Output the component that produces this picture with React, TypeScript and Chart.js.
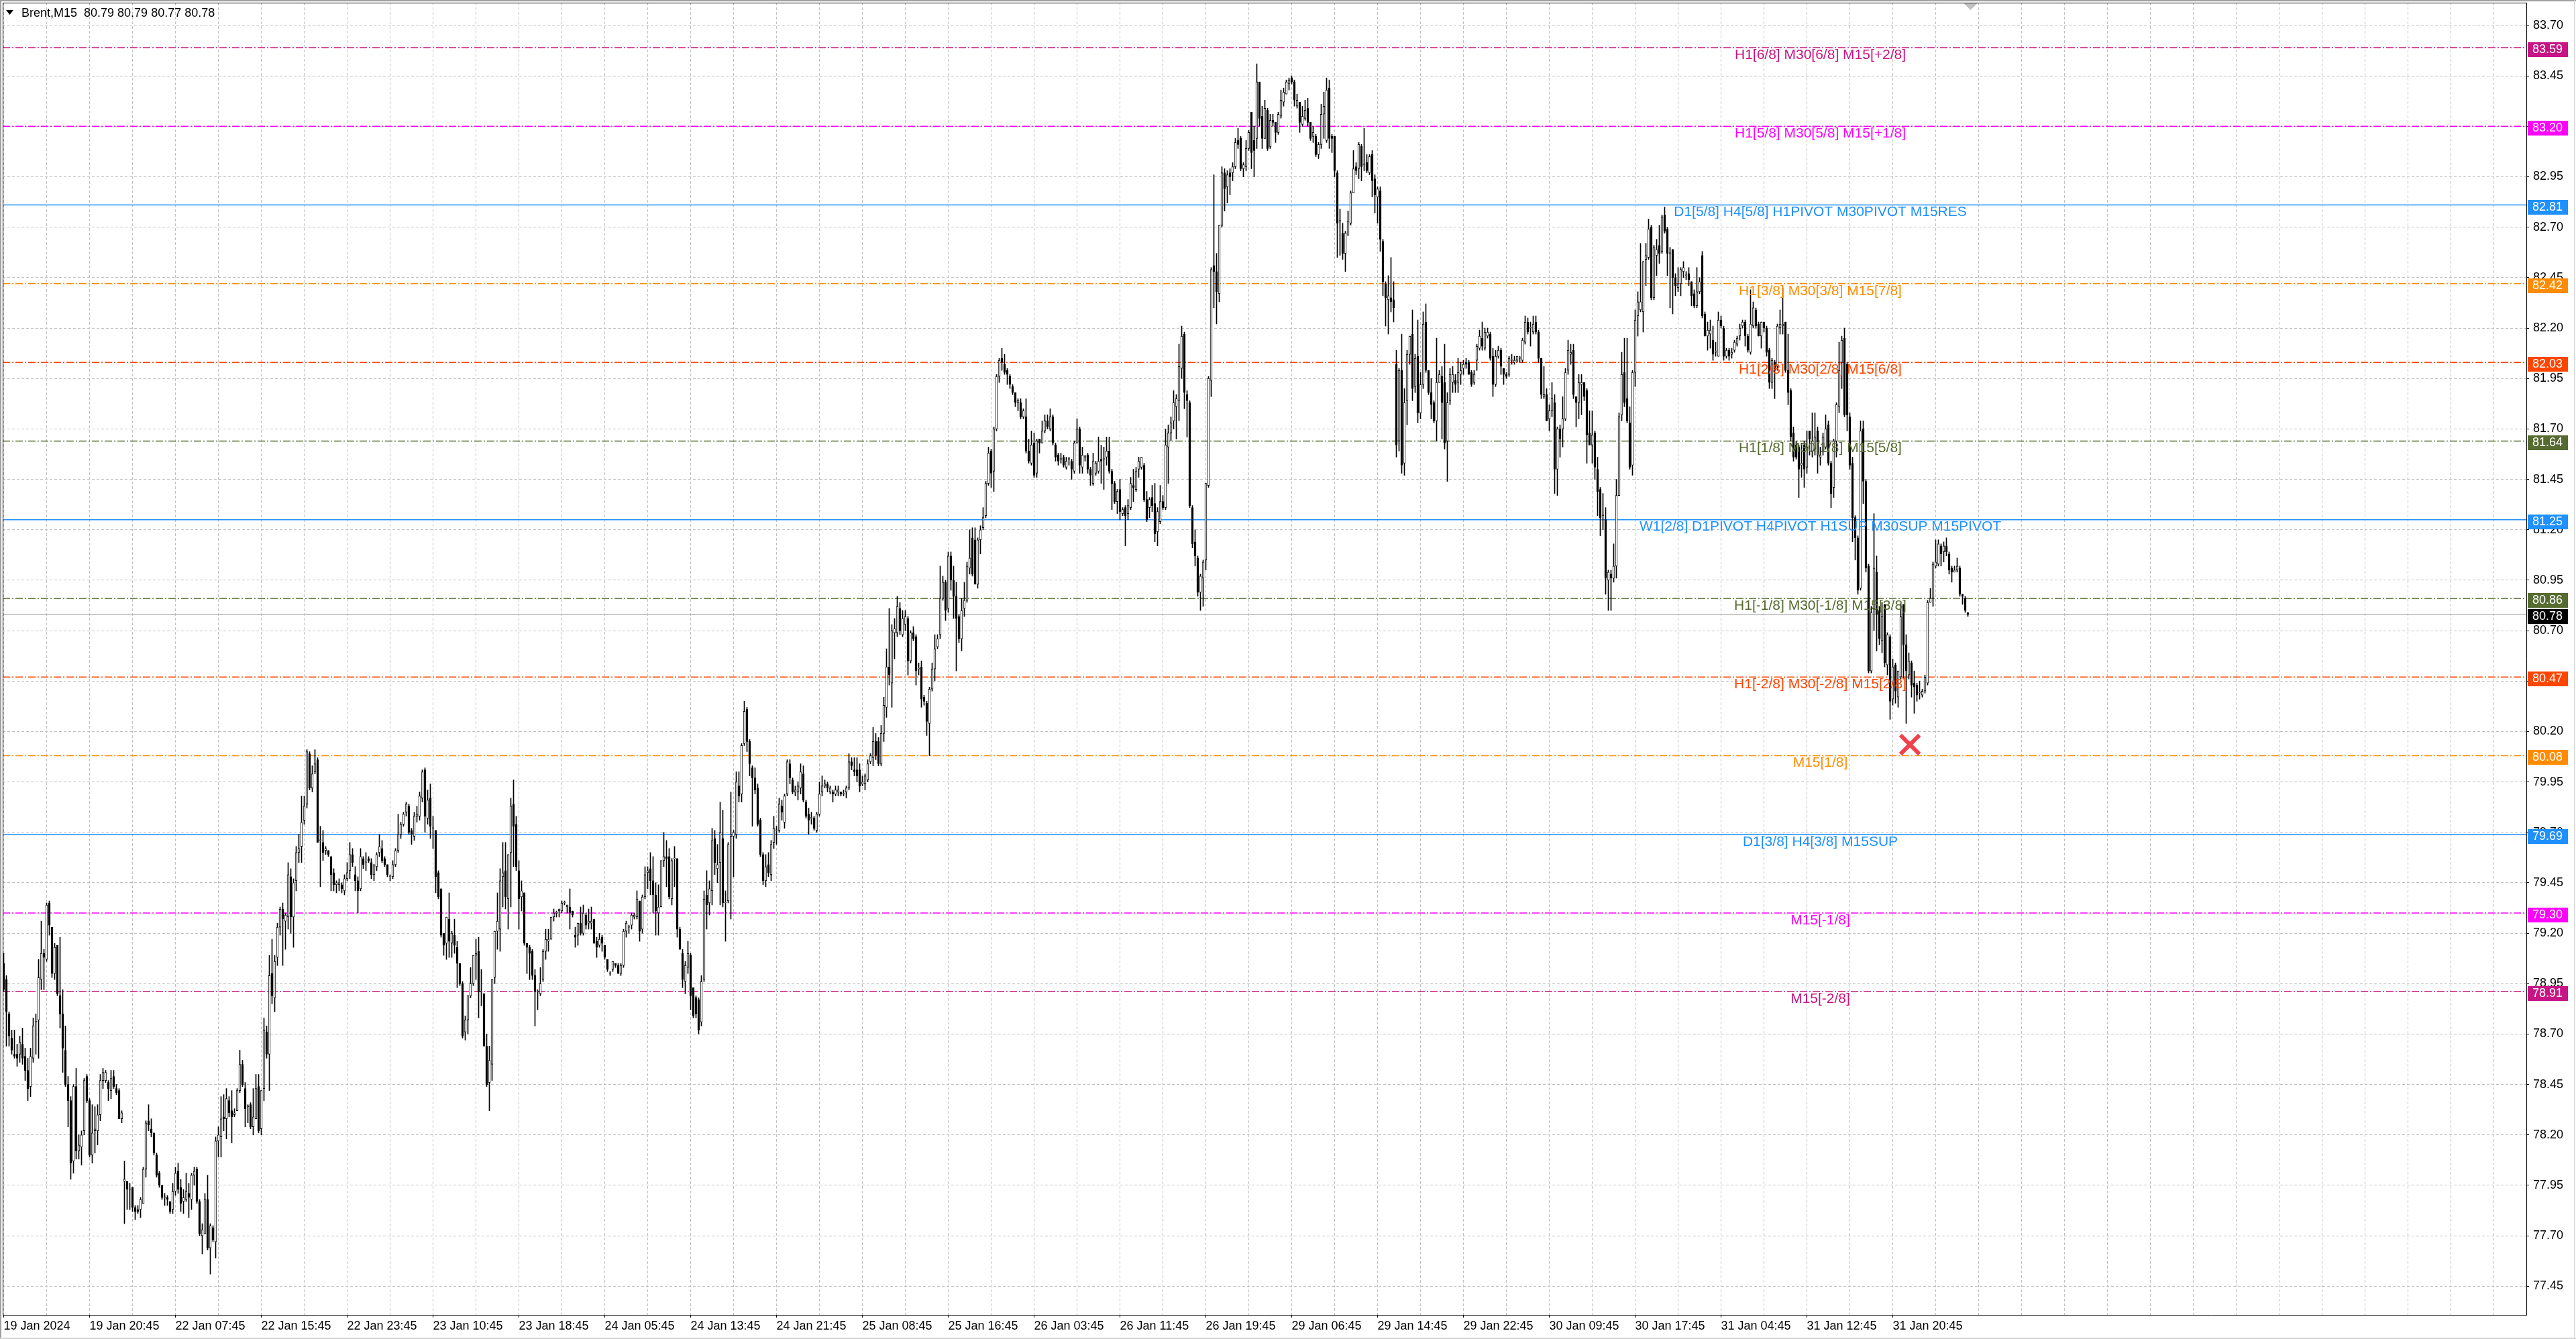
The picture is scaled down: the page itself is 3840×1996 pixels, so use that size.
import { useEffect, useRef } from 'react';
import { Chart, registerables } from 'chart.js';

Chart.register(...registerables);

const FONT = '"Liberation Sans", Arial, sans-serif';
Chart.defaults.font.family = FONT;
Chart.defaults.font.size = 18;
Chart.defaults.color = '#000';

// Brent M15 bars, [open, high, low, close]
const bars19to22Jan = [
  [79.05,79.10,78.91,78.92],[78.97,78.99,78.64,78.81],[78.80,78.81,78.64,78.69],[78.68,78.72,78.60,78.62],
  [78.60,78.72,78.58,78.59],[78.60,78.65,78.54,78.58],[78.60,78.69,78.56,78.66],[78.65,78.73,78.55,78.58],
  [78.59,78.63,78.47,78.52],[78.52,78.58,78.37,78.43],[78.44,78.63,78.39,78.59],[78.58,78.78,78.56,78.74],
  [78.76,78.80,78.60,78.76],[78.77,79.07,78.58,78.98],[78.97,79.26,78.92,79.10],[79.10,79.12,78.92,79.08],
  [79.07,79.35,79.06,79.34],[79.35,79.36,79.19,79.24],[79.23,79.23,78.98,79.00],[79.00,79.15,78.97,79.13],
  [79.14,79.14,78.89,78.90],[78.89,79.18,78.73,78.80],[78.80,78.92,78.51,78.63],[78.62,78.74,78.44,78.45],
  [78.45,78.49,78.24,78.37],[78.37,78.39,77.98,78.06],[78.07,78.45,78.01,78.44],[78.44,78.53,78.08,78.12],
  [78.12,78.20,78.08,78.15],[78.14,78.22,78.05,78.20],[78.22,78.48,78.20,78.47],[78.49,78.50,78.36,78.37],
  [78.37,78.38,78.09,78.10],[78.10,78.35,78.06,78.21],[78.22,78.34,78.11,78.23],[78.22,78.35,78.15,78.30],
  [78.30,78.50,78.27,78.47],[78.47,78.53,78.43,78.51],[78.47,78.52,78.46,78.51],[78.46,78.47,78.37,78.43],
  [78.42,78.52,78.38,78.48],[78.49,78.52,78.43,78.44],[78.43,78.45,78.40,78.41],[78.42,78.43,78.28,78.28],
  [78.28,78.32,78.26,78.31],[77.97,78.07,77.76,77.98],[77.97,77.97,77.83,77.93],[77.93,77.96,77.83,77.93],
  [77.94,77.94,77.82,77.84],[77.84,77.85,77.78,77.82],[77.83,77.85,77.81,77.82],[77.83,77.89,77.79,77.88],
  [77.86,78.04,77.86,78.03],[78.03,78.27,77.99,78.26],[78.27,78.35,78.22,78.25],[78.23,78.28,78.19,78.21],
  [78.21,78.21,78.10,78.11],[78.10,78.11,77.99,78.00],[78.01,78.02,77.94,77.95],[77.95,77.95,77.88,77.89],
  [77.89,77.91,77.85,77.89],[77.89,77.90,77.85,77.88],[77.87,77.87,77.81,77.82],[77.83,77.96,77.81,77.92],
  [77.92,78.04,77.90,78.01],[78.02,78.06,77.91,77.93],[77.94,77.98,77.82,77.86],[77.87,77.93,77.81,77.89],
  [77.88,78.01,77.87,77.92],[77.91,77.96,77.79,77.89],[77.88,78.01,77.83,78.00],[78.00,78.04,77.95,78.02],
  [78.03,78.04,77.86,77.87],[77.87,77.88,77.70,77.71],[77.70,77.76,77.61,77.73],[77.71,77.91,77.71,77.88],
  [77.88,78.00,77.63,77.64],[77.64,77.76,77.51,77.75],[77.74,77.75,77.67,77.68],[77.67,78.19,77.59,78.17],
  [78.17,78.24,78.09,78.20],[78.19,78.39,78.09,78.28],[78.29,78.40,78.22,78.28],[78.28,78.43,78.18,78.38],
  [78.37,78.39,78.29,78.31],[78.32,78.42,78.16,78.29],[78.30,78.33,78.29,78.31],[78.32,78.43,78.32,78.42],
  [78.42,78.62,78.41,78.55],[78.55,78.57,78.44,78.45],[78.43,78.46,78.24,78.33],[78.34,78.35,78.26,78.34],
  [78.35,78.36,78.23,78.24],[78.24,78.43,78.20,78.29],[78.28,78.50,78.28,78.43],[78.44,78.50,78.21,78.22],
  [78.23,78.42,78.20,78.42],[78.43,78.78,78.37,78.72],[78.71,78.74,78.58,78.60],[78.60,79.09,78.42,78.99],
  [79.00,79.17,78.85,78.89],[78.88,79.09,78.81,79.06],[79.08,79.25,79.04,79.23],[79.23,79.33,79.19,79.32],
  [79.32,79.35,79.04,79.27],[79.26,79.30,79.12,79.29],[79.28,79.55,79.22,79.49],[79.48,79.52,79.20,79.28],
  [79.28,79.47,79.13,79.45],[79.46,79.63,79.41,79.60],[79.60,79.69,79.55,79.62],[79.63,79.88,79.55,79.75],
  [79.76,79.88,79.74,79.83],[79.84,80.11,79.82,80.10],[80.09,80.10,79.91,79.92],[79.92,80.03,79.90,79.99],
  [80.00,80.11,79.99,80.04],[80.06,80.07,79.65,79.65],[79.66,79.73,79.43,79.66],[79.65,79.71,79.56,79.60],
  [79.61,79.63,79.59,79.62],[79.61,79.61,79.58,79.59],[79.58,79.58,79.41,79.49],[79.50,79.52,79.41,79.44],
  [79.44,79.46,79.40,79.45],[79.44,79.47,79.41,79.45],[79.44,79.45,79.40,79.42],[79.41,79.49,79.39,79.47],
  [79.47,79.55,79.46,79.50],
];

const bars23to24Jan = [
  [79.51,79.65,79.47,79.59],[79.59,79.62,79.53,79.55],[79.49,79.53,79.41,79.46],[79.46,79.48,79.30,79.41],
  [79.42,79.62,79.41,79.58],[79.57,79.58,79.52,79.54],[79.55,79.60,79.51,79.55],[79.57,79.58,79.55,79.56],
  [79.55,79.57,79.47,79.49],[79.49,79.54,79.46,79.54],[79.53,79.60,79.51,79.59],[79.60,79.69,79.58,79.63],
  [79.62,79.66,79.55,79.56],[79.57,79.58,79.53,79.54],[79.54,79.54,79.48,79.49],[79.48,79.49,79.46,79.48],
  [79.48,79.56,79.47,79.54],[79.54,79.62,79.53,79.61],[79.61,79.79,79.60,79.69],[79.69,79.75,79.67,79.74],
  [79.74,79.80,79.73,79.79],[79.80,79.85,79.78,79.84],[79.83,79.84,79.69,79.70],[79.71,79.72,79.64,79.69],
  [79.68,79.80,79.66,79.78],[79.78,79.83,79.75,79.79],[79.78,79.90,79.76,79.88],[79.87,80.01,79.85,80.00],
  [80.01,80.02,79.70,79.78],[79.77,79.91,79.74,79.86],[79.87,79.94,79.67,79.73],[79.72,79.78,79.62,79.72],
  [79.71,79.71,79.40,79.48],[79.50,79.51,79.37,79.38],[79.42,79.42,79.18,79.19],[79.20,79.20,79.09,79.14],
  [79.15,79.28,79.07,79.28],[79.27,79.40,79.08,79.16],[79.15,79.21,79.08,79.20],[79.19,79.27,79.10,79.14],
  [79.13,79.16,78.93,79.05],[79.05,79.05,78.94,78.95],[78.95,78.96,78.68,78.69],[78.71,78.79,78.67,78.77],
  [78.77,78.89,78.70,78.89],[78.89,79.03,78.88,78.95],[78.95,79.09,78.94,79.09],[79.09,79.17,78.97,79.10],
  [79.11,79.18,78.78,78.91],[78.91,79.02,78.84,78.91],[78.90,78.90,78.64,78.64],[78.64,78.70,78.44,78.45],
  [78.46,78.64,78.32,78.57],[78.55,78.97,78.47,78.97],[78.98,79.21,78.95,79.21],[79.21,79.40,79.12,79.26],
  [79.22,79.52,79.11,79.46],[79.48,79.65,79.33,79.50],[79.51,79.65,79.32,79.38],[79.37,79.59,79.22,79.59],
  [79.60,79.87,79.33,79.83],[79.84,79.96,79.53,79.73],[79.74,79.78,79.51,79.53],[79.51,79.56,79.22,79.37],
  [79.38,79.46,79.31,79.41],[79.40,79.40,79.14,79.15],[79.15,79.15,79.00,79.13],[79.13,79.14,78.97,79.10],
  [79.11,79.12,78.97,78.99],[78.99,79.02,78.74,78.91],[78.91,78.92,78.82,78.91],[78.90,79.03,78.89,78.95],
  [78.97,79.12,78.96,79.11],[79.11,79.22,79.07,79.17],[79.16,79.22,79.11,79.17],[79.17,79.28,79.17,79.28],
  [79.28,79.32,79.26,79.30],[79.30,79.31,79.28,79.30],[79.31,79.32,79.28,79.32],[79.31,79.36,79.30,79.35],
  [79.35,79.36,79.34,79.35],[79.33,79.34,79.30,79.34],[79.33,79.42,79.22,79.30],[79.31,79.31,79.28,79.29],
  [79.19,79.23,79.13,79.18],[79.19,79.25,79.14,79.25],[79.25,79.33,79.19,79.20],[79.20,79.34,79.19,79.30],
  [79.29,79.30,79.22,79.24],[79.25,79.32,79.22,79.26],[79.25,79.33,79.22,79.26],[79.27,79.27,79.15,79.15],
  [79.16,79.18,79.08,79.13],[79.14,79.20,79.13,79.17],[79.18,79.19,79.11,79.15],[79.14,79.14,79.07,79.08],
  [79.07,79.07,79.01,79.02],[79.00,79.01,78.99,79.00],[79.02,79.06,79.01,79.06],[79.05,79.05,79.03,79.04],
  [79.04,79.05,79.00,79.00],[79.00,79.05,78.99,79.04],[79.04,79.22,79.03,79.21],[79.21,79.26,79.18,79.25],
  [79.23,79.24,79.20,79.23],[79.24,79.30,79.22,79.29],[79.28,79.30,79.27,79.29],[79.28,79.41,79.27,79.37],
  [79.36,79.36,79.16,79.21],[79.22,79.39,79.20,79.38],[79.38,79.53,79.37,79.49],[79.50,79.53,79.42,79.51],
  [79.52,79.60,79.39,79.46],[79.46,79.58,79.30,79.39],[79.39,79.45,79.19,79.31],[79.30,79.44,79.19,79.33],
  [79.33,79.56,79.33,79.56],[79.56,79.70,79.53,79.58],[79.58,79.66,79.43,79.57],[79.58,79.62,79.37,79.38],
  [79.37,79.57,79.34,79.56],[79.57,79.63,79.43,79.57],[79.57,79.57,79.18,79.22],[79.22,79.23,79.12,79.12],
  [79.10,79.12,78.93,78.97],
];

const bars24to26Jan = [
  [78.96,79.06,78.90,79.04],[79.03,79.16,79.00,79.10],[79.09,79.10,78.82,78.89],[78.93,78.93,78.78,78.79],
  [78.88,78.89,78.78,78.80],[78.87,78.88,78.70,78.72],[78.76,78.99,78.74,78.96],[78.97,79.41,78.96,79.37],
  [79.39,79.51,79.22,79.34],[79.35,79.46,79.29,79.42],[79.41,79.72,79.34,79.66],[79.67,79.71,79.49,79.55],
  [79.52,79.64,79.45,79.54],[79.55,79.85,79.34,79.70],[79.67,79.81,79.33,79.35],[79.35,79.41,79.16,79.35],
  [79.36,79.65,79.35,79.64],[79.68,79.90,79.27,79.69],[79.68,79.71,79.48,79.70],[79.69,80.00,79.67,79.95],
  [79.93,80.00,79.85,79.88],[79.89,80.14,79.85,80.13],[80.14,80.35,80.13,80.30],[80.31,80.32,80.10,80.15],
  [80.15,80.16,79.98,80.04],[80.02,80.03,79.73,79.97],[79.97,80.02,79.89,79.91],[79.92,79.94,79.73,79.74],
  [79.76,79.77,79.58,79.59],[79.59,79.60,79.44,79.46],[79.46,79.59,79.43,79.53],[79.54,79.60,79.48,79.50],
  [79.49,79.66,79.46,79.64],[79.65,79.78,79.62,79.72],[79.71,79.73,79.64,79.71],[79.71,79.87,79.70,79.84],
  [79.83,79.86,79.76,79.80],[79.75,79.89,79.72,79.88],[79.89,80.06,79.88,80.05],[80.04,80.06,79.94,79.97],
  [79.96,79.97,79.89,79.90],[79.90,79.93,79.88,79.91],[79.90,79.95,79.86,79.93],[79.92,80.04,79.89,80.00],
  [79.99,80.03,79.85,79.86],[79.85,79.86,79.77,79.78],[79.79,79.82,79.69,79.76],[79.77,79.80,79.74,79.77],
  [79.77,79.78,79.71,79.72],[79.71,79.80,79.70,79.79],[79.79,79.95,79.78,79.89],[79.90,79.98,79.88,79.93],
  [79.93,79.96,79.92,79.94],[79.94,79.95,79.90,79.92],[79.90,79.93,79.89,79.92],[79.90,79.91,79.85,79.89],
  [79.89,79.93,79.88,79.91],[79.90,79.93,79.88,79.91],[79.90,79.90,79.88,79.89],[79.89,79.91,79.88,79.89],
  [79.90,79.93,79.87,79.92],[79.92,80.09,79.91,80.05],[80.05,80.07,80.01,80.03],[80.01,80.07,79.98,80.00],
  [80.01,80.07,79.95,79.98],[80.01,80.04,79.90,79.93],[79.94,79.98,79.93,79.95],[79.94,79.99,79.91,79.98],
  [79.96,80.06,79.95,80.04],[80.05,80.09,80.04,80.08],[80.07,80.22,80.03,80.15],[80.15,80.19,80.06,80.08],
  [80.15,80.17,80.03,80.04],[80.04,80.23,80.03,80.19],[80.19,80.37,80.15,80.33],[80.32,80.61,80.27,80.52],
  [80.52,80.81,80.43,80.48],[80.44,80.73,80.32,80.70],[80.69,80.76,80.56,80.71],[80.69,80.87,80.67,80.82],
  [80.81,80.84,80.68,80.70],[80.68,80.80,80.67,80.76],[80.73,80.80,80.70,80.77],[80.76,80.77,80.48,80.55],
  [80.55,80.70,80.54,80.69],[80.69,80.72,80.65,80.66],[80.67,80.68,80.43,80.50],[80.51,80.54,80.48,80.51],
  [80.52,80.55,80.32,80.36],[80.37,80.38,80.33,80.35],[80.34,80.35,80.18,80.25],[80.24,80.42,80.08,80.41],
  [80.41,80.54,80.40,80.51],[80.51,80.68,80.45,80.61],[80.62,80.68,80.61,80.66],[80.68,81.02,80.66,80.86],
  [80.86,80.97,80.85,80.94],[80.94,80.95,80.75,80.80],[80.81,81.09,80.79,81.07],[81.07,81.09,80.90,80.95],
  [80.95,81.02,80.76,80.87],[80.87,80.94,80.50,80.76],[80.77,80.78,80.64,80.66],[80.66,80.86,80.60,80.80],
  [80.81,80.94,80.77,80.85],[80.85,81.04,80.84,81.02],[81.01,81.20,80.98,81.06],[81.16,81.21,80.97,80.98],
  [81.15,81.21,80.93,80.93],[80.93,81.16,80.91,81.15],[81.15,81.22,81.08,81.20],[81.21,81.31,81.20,81.26],
  [81.27,81.44,81.26,81.43],[81.43,81.61,81.42,81.58],[81.59,81.60,81.41,81.48],[81.49,81.71,81.39,81.70],
  [81.70,81.97,81.69,81.96],[81.96,82.05,81.93,82.04],[82.05,82.10,81.99,82.03],[82.02,82.07,81.97,81.98],
  [81.99,82.00,81.92,81.97],[81.96,81.97,81.90,81.92],[81.91,81.92,81.87,81.88],[81.88,81.88,81.81,81.83],
  [81.83,81.85,81.79,81.84],
];

const bars26to29Jan = [
  [81.83,81.85,81.75,81.76],[81.76,81.80,81.75,81.79],[81.76,81.85,81.58,81.59],[81.59,81.65,81.53,81.54],
  [81.53,81.69,81.52,81.62],[81.63,81.68,81.46,81.47],[81.48,81.65,81.46,81.64],[81.65,81.65,81.58,81.63],
  [81.63,81.74,81.63,81.69],[81.69,81.77,81.68,81.74],[81.74,81.77,81.70,81.71],[81.70,81.80,81.69,81.76],
  [81.76,81.77,81.62,81.63],[81.62,81.63,81.54,81.56],[81.57,81.58,81.52,81.54],[81.55,81.58,81.53,81.55],
  [81.56,81.57,81.51,81.52],[81.51,81.56,81.50,81.54],[81.55,81.56,81.52,81.55],[81.54,81.55,81.45,81.50],
  [81.49,81.64,81.48,81.63],[81.63,81.75,81.63,81.70],[81.70,81.71,81.48,81.52],[81.51,81.61,81.48,81.57],
  [81.56,81.57,81.54,81.56],[81.57,81.58,81.48,81.50],[81.50,81.51,81.42,81.47],[81.43,81.58,81.42,81.54],
  [81.48,81.54,81.47,81.53],[81.49,81.66,81.48,81.54],[81.55,81.62,81.43,81.54],[81.55,81.61,81.40,81.55],
  [81.56,81.66,81.52,81.59],[81.59,81.66,81.48,81.49],[81.49,81.50,81.30,81.43],[81.43,81.44,81.33,81.34],
  [81.34,81.40,81.28,81.39],[81.40,81.45,81.25,81.29],[81.28,81.31,81.27,81.30],[81.31,81.32,81.12,81.27],
  [81.28,81.35,81.25,81.32],[81.31,81.46,81.30,81.43],[81.42,81.50,81.34,81.41],[81.40,81.51,81.39,81.49],
  [81.50,81.56,81.46,81.54],[81.51,81.56,81.50,81.56],[81.52,81.53,81.34,81.35],[81.35,81.39,81.24,81.25],
  [81.31,81.36,81.26,81.35],[81.36,81.42,81.29,81.32],[81.33,81.43,81.14,81.18],[81.19,81.31,81.12,81.29],
  [81.24,81.42,81.23,81.34],[81.34,81.37,81.30,81.31],[81.31,81.70,81.30,81.62],[81.61,81.72,81.43,81.68],
  [81.68,81.76,81.64,81.73],[81.74,81.89,81.70,81.83],[81.81,81.87,81.65,81.85],[81.84,82.12,81.74,82.01],
  [82.00,82.21,81.95,82.16],[82.17,82.18,81.80,81.88],[81.87,81.89,81.66,81.84],[81.83,81.84,81.31,81.32],
  [81.31,81.32,81.11,81.13],[81.14,81.20,81.02,81.07],[81.06,81.07,80.87,80.89],[80.89,80.98,80.80,80.97],
  [80.96,81.05,80.82,81.04],[81.05,81.43,81.00,81.43],[81.42,81.96,81.41,81.95],[81.94,82.50,81.86,82.49],
  [82.51,82.96,82.30,82.48],[82.48,82.57,82.22,82.38],[82.37,82.71,82.33,82.71],[82.71,83.00,82.70,82.97],
  [82.97,82.99,82.78,82.89],[82.90,82.98,82.82,82.96],[82.97,82.99,82.86,82.95],[82.97,83.02,82.93,83.00],
  [83.00,83.14,82.99,83.12],[83.13,83.19,83.09,83.11],[83.14,83.15,82.98,82.99],[82.99,83.02,82.95,83.01],
  [83.00,83.13,82.98,83.09],[83.09,83.18,83.08,83.17],[83.27,83.27,82.99,83.07],[83.13,83.20,82.95,83.08],
  [83.14,83.51,83.09,83.42],[83.42,83.42,83.20,83.24],[83.25,83.30,83.09,83.14],[83.14,83.33,83.14,83.29],
  [83.28,83.29,83.08,83.09],[83.10,83.26,83.09,83.23],[83.23,83.26,83.20,83.22],[83.22,83.22,83.12,83.17],
  [83.17,83.27,83.16,83.26],[83.25,83.38,83.24,83.33],[83.32,83.39,83.30,83.37],[83.36,83.43,83.36,83.42],
  [83.41,83.44,83.38,83.43],[83.44,83.45,83.41,83.42],[83.42,83.43,83.30,83.33],[83.30,83.36,83.29,83.33],
  [83.32,83.32,83.17,83.22],[83.21,83.30,83.20,83.25],[83.24,83.33,83.23,83.28],[83.29,83.34,83.20,83.22],
  [83.22,83.22,83.13,83.14],[83.15,83.20,83.12,83.17],[83.15,83.16,83.05,83.06],[83.06,83.12,83.04,83.11],
  [83.11,83.31,83.09,83.26],[83.26,83.37,83.14,83.30],[83.13,83.44,83.12,83.38],[83.39,83.43,83.09,83.14],
  [83.15,83.16,83.07,83.14],[83.15,83.15,82.95,82.98],[82.97,82.98,82.55,82.72],[82.73,82.79,82.56,82.73],
  [82.67,82.72,82.54,82.57],[82.57,82.68,82.48,82.67],[82.66,82.78,82.66,82.73],[82.72,82.88,82.71,82.87],
  [82.87,83.08,82.87,82.99],
];

const bars29to30Jan = [
  [83.00,83.02,82.96,82.98],[82.99,83.12,82.94,83.11],[83.10,83.11,82.93,83.00],[83.01,83.19,82.98,83.01],
  [83.02,83.06,82.97,82.98],[82.97,83.06,82.96,83.05],[83.06,83.08,82.85,82.93],[82.94,82.96,82.77,82.86],
  [82.85,82.90,82.72,82.89],[82.88,82.90,82.58,82.64],[82.63,82.64,82.36,82.43],[82.42,82.43,82.21,82.35],
  [82.34,82.46,82.17,82.36],[82.35,82.55,82.28,82.33],[82.34,82.43,82.23,82.30],[82.02,82.09,81.56,81.62],
  [81.64,82.00,81.59,81.99],[81.99,82.17,81.48,81.52],[81.53,81.90,81.47,81.83],[81.84,82.09,81.72,82.07],
  [82.07,82.16,82.02,82.16],[82.17,82.29,81.84,81.90],[81.91,82.07,81.88,82.05],[82.06,82.24,81.73,81.78],
  [81.78,81.98,81.75,81.92],[81.92,82.28,81.90,82.22],[82.23,82.32,81.98,81.99],[81.99,81.99,81.87,81.88],
  [81.88,81.95,81.75,81.82],[81.83,81.84,81.73,81.74],[81.74,82.15,81.64,81.93],[81.93,81.99,81.93,81.97],
  [81.96,82.01,81.65,81.83],[81.93,82.12,81.60,81.63],[81.64,81.88,81.44,81.83],[81.84,82.00,81.82,81.97],
  [81.93,82.01,81.88,81.97],[81.94,81.97,81.88,81.92],[81.93,82.05,81.88,81.98],[81.97,82.03,81.92,81.99],
  [82.00,82.04,81.97,82.02],[82.03,82.05,82.00,82.02],[82.03,82.04,81.97,81.97],[81.98,81.99,81.91,81.92],
  [81.93,81.99,81.92,81.97],[82.04,82.12,81.99,82.11],[82.10,82.19,82.09,82.16],[82.15,82.23,82.09,82.11],
  [82.10,82.20,82.09,82.18],[82.16,82.20,82.15,82.18],[82.17,82.18,82.04,82.05],[82.06,82.10,81.86,81.92],
  [81.92,82.09,81.91,82.06],[82.06,82.11,82.05,82.09],[82.09,82.10,81.97,82.01],[82.00,82.00,81.92,81.97],
  [81.97,81.98,81.95,81.96],[81.97,82.06,81.96,82.05],[82.04,82.07,82.02,82.04],[82.03,82.06,82.02,82.04],
  [82.04,82.06,82.03,82.06],[82.05,82.06,82.03,82.05],[82.04,82.15,82.03,82.14],[82.13,82.26,82.12,82.23],
  [82.23,82.25,82.17,82.18],[82.20,82.23,82.11,82.20],[82.18,82.26,82.17,82.22],[82.23,82.26,82.17,82.18],
  [82.18,82.19,82.03,82.05],[82.05,82.05,81.85,81.87],[81.86,82.01,81.85,81.87],[81.87,81.90,81.74,81.74],
  [81.75,81.82,81.69,81.79],[81.79,81.93,81.76,81.85],[81.83,81.87,81.38,81.50],[81.50,81.71,81.37,81.70],
  [81.70,81.72,81.56,81.65],[81.70,81.86,81.61,81.75],[81.75,82.00,81.74,81.98],[81.99,82.14,81.97,82.09],
  [82.07,82.12,82.02,82.08],[82.09,82.12,81.85,81.87],[81.86,81.86,81.71,81.83],[81.83,81.97,81.75,81.93],
  [81.92,81.97,81.77,81.93],[81.93,81.93,81.84,81.86],[81.89,81.90,81.53,81.67],[81.68,81.79,81.62,81.62],
  [81.62,81.79,81.53,81.67],[81.68,81.69,81.45,81.51],[81.50,81.56,81.27,81.39],[81.40,81.41,81.17,81.26],
  [81.27,81.38,81.20,81.27],[81.25,81.31,80.88,80.96],[80.95,81.00,80.80,80.99],[80.98,81.00,80.80,80.96],
  [80.96,81.13,80.94,81.02],[81.02,81.45,80.96,81.37],[81.37,81.78,81.37,81.76],[81.77,82.08,81.74,81.97],
  [81.98,82.15,81.81,81.83],[81.85,82.15,81.73,81.74],[81.73,81.81,81.50,81.51],[81.52,81.99,81.47,81.98],
  [81.98,82.29,81.91,82.24],[82.26,82.38,82.16,82.33],[82.29,82.62,82.28,82.33],[82.28,82.53,82.18,82.53],
  [82.54,82.62,82.41,82.56],[82.55,82.74,82.54,82.69],[82.70,82.71,82.34,82.35],[82.35,82.61,82.34,82.60],
  [82.56,82.64,82.46,82.59],[82.61,82.71,82.52,82.57],[82.58,82.76,82.57,82.75],[82.76,82.80,82.67,82.68],
  [82.69,82.70,82.46,82.57],[82.57,82.60,82.30,82.57],[82.59,82.59,82.27,82.45],[82.45,82.47,82.36,82.41],
  [82.40,82.50,82.38,82.42],[82.42,82.50,82.36,82.49],[82.48,82.53,82.45,82.50],[82.46,82.48,82.44,82.46],
  [82.47,82.50,82.41,82.44],
];

const bars31Jan = [
  [82.43,82.43,82.31,82.36],[82.37,82.39,82.30,82.31],[82.31,82.50,82.30,82.38],[82.38,82.45,82.37,82.43],
  [82.56,82.58,82.25,82.26],[82.27,82.28,82.16,82.16],[82.16,82.23,82.09,82.19],[82.17,82.24,82.10,82.19],
  [82.14,82.21,82.04,82.07],[82.08,82.13,82.06,82.08],[82.06,82.28,82.06,82.24],[82.24,82.26,82.20,82.21],
  [82.20,82.21,82.04,82.06],[82.06,82.10,82.05,82.09],[82.09,82.10,82.04,82.06],[82.07,82.10,82.05,82.08],
  [82.09,82.14,82.08,82.13],[82.12,82.16,82.11,82.15],[82.16,82.22,82.14,82.20],[82.21,82.24,82.20,82.23],
  [82.23,82.24,82.11,82.16],[82.16,82.17,82.08,82.09],[82.08,82.39,82.07,82.22],[82.21,82.33,82.20,82.30],
  [82.29,82.30,82.20,82.21],[82.22,82.23,82.16,82.16],[82.16,82.23,82.10,82.23],[82.23,82.23,82.18,82.20],
  [82.20,82.21,82.06,82.08],[82.09,82.10,81.90,81.93],[81.93,82.05,81.90,82.04],[82.03,82.04,81.85,81.99],
  [82.01,82.22,81.99,82.21],[82.20,82.29,82.17,82.22],[82.21,82.40,82.17,82.22],[82.23,82.23,81.98,81.99],
  [81.99,82.17,81.82,81.88],[81.89,81.90,81.64,81.66],[81.68,81.71,81.54,81.56],[81.62,81.64,81.55,81.56],
  [81.61,81.62,81.36,81.50],[81.52,81.63,81.46,81.53],[81.62,81.64,81.41,81.50],[81.51,81.69,81.48,81.61],
  [81.69,81.69,81.57,81.65],[81.59,81.78,81.56,81.64],[81.60,81.78,81.57,81.66],[81.69,81.71,81.48,81.57],
  [81.56,81.61,81.52,81.57],[81.59,81.68,81.57,81.66],[81.61,81.77,81.60,81.70],[81.72,81.74,81.52,81.53],
  [81.53,81.54,81.31,81.38],[81.41,81.65,81.36,81.64],[81.64,81.83,81.56,81.82],[81.81,82.13,81.78,81.99],
  [82.03,82.16,81.90,82.14],[82.15,82.20,81.76,81.77],[82.02,82.03,81.69,81.77],[81.76,81.78,81.50,81.52],
  [81.53,81.56,81.14,81.26],[81.26,81.27,81.05,81.16],[81.16,81.17,80.88,80.90],[80.91,81.74,80.90,81.69],
  [81.70,81.74,81.33,81.44],[81.44,81.45,80.99,81.01],[81.02,81.03,80.49,80.50],[80.50,80.82,80.49,80.79],
  [80.81,81.28,80.70,81.01],[80.99,81.07,80.60,80.78],[80.80,80.82,80.63,80.66],[80.65,80.84,80.59,80.77],
  [80.83,80.83,80.52,80.54],[80.53,80.69,80.48,80.68],[80.67,80.68,80.26,80.35],[80.36,80.56,80.33,80.52],
  [80.53,80.54,80.34,80.40],[80.37,80.50,80.32,80.50],[80.47,80.83,80.46,80.77],[80.83,80.83,80.46,80.63],
  [80.63,80.68,80.24,80.50],[80.48,80.59,80.46,80.55],[80.54,80.55,80.37,80.43],[80.44,80.50,80.29,80.42],
  [80.43,80.44,80.35,80.38],[80.39,80.45,80.36,80.39],[80.38,80.41,80.37,80.40],[80.40,80.48,80.39,80.47],
  [80.44,80.85,80.43,80.84],[80.84,80.91,80.84,80.86],[80.86,81.04,80.82,81.03],[81.02,81.15,81.01,81.04],
  [81.03,81.15,81.02,81.13],[81.12,81.13,81.02,81.08],[81.09,81.14,81.04,81.12],[81.12,81.16,81.07,81.09],
  [81.08,81.09,80.98,81.00],[81.01,81.02,80.94,80.99],[80.99,81.02,80.99,81.00],[81.00,81.06,80.99,81.02],
  [81.01,81.02,80.87,80.88],[80.88,80.88,80.83,80.87],[80.86,80.87,80.79,80.80],[80.79,80.79,80.77,80.78],
];

const candles = [
  ...bars19to22Jan, ...bars23to24Jan, ...bars24to26Jan,
  ...bars26to29Jan, ...bars29to30Jan, ...bars31Jan,
];

// one time label every 32 bars (8 hours)
const timeLabels = [
  '19 Jan 2024', '19 Jan 20:45', '22 Jan 07:45', '22 Jan 15:45', '22 Jan 23:45', '23 Jan 10:45',
  '23 Jan 18:45', '24 Jan 05:45', '24 Jan 13:45', '24 Jan 21:45', '25 Jan 08:45', '25 Jan 16:45',
  '26 Jan 03:45', '26 Jan 11:45', '26 Jan 19:45', '29 Jan 06:45', '29 Jan 14:45', '29 Jan 22:45',
  '30 Jan 09:45', '30 Jan 17:45', '31 Jan 04:45', '31 Jan 12:45', '31 Jan 20:45',
];

const priceTicks = [
  77.45, 77.70, 77.95, 78.20, 78.45, 78.70, 78.95, 79.20, 79.45, 79.70, 79.95, 80.20, 80.45,
  80.70, 80.95, 81.20, 81.45, 81.70, 81.95, 82.20, 82.45, 82.70, 82.95, 83.20, 83.45, 83.70,
];

// Murrey-math style levels
const levelPrices = [83.59, 83.20, 82.81, 82.42, 82.03, 81.64, 81.25, 80.86, 80.47, 80.08, 79.69, 79.30, 78.91];
const levelColors = [
  '#C71585', '#FF00FF', '#1E90FF', '#FF8C00', '#FF4500', '#556B2F', '#1E90FF',
  '#556B2F', '#FF4500', '#FF8C00', '#1E90FF', '#FF00FF', '#C71585',
];
const levelSolid = [false, false, true, false, false, false, true, false, false, false, true, false, false];
const levelTexts = [
  'H1[6/8] M30[6/8] M15[+2/8]',
  'H1[5/8] M30[5/8] M15[+1/8]',
  'D1[5/8] H4[5/8] H1PIVOT M30PIVOT M15RES',
  'H1[3/8] M30[3/8] M15[7/8]',
  'H1[2/8] M30[2/8] M15[6/8]',
  'H1[1/8] M30[1/8] M15[5/8]',
  'W1[2/8] D1PIVOT H4PIVOT H1SUP M30SUP M15PIVOT',
  'H1[-1/8] M30[-1/8] M15[3/8]',
  'H1[-2/8] M30[-2/8] M15[2/8]',
  'M15[1/8]',
  'D1[3/8] H4[3/8] M15SUP',
  'M15[-1/8]',
  'M15[-2/8]',
];
const levelLabelBar = 677;

const crossMarker = [710.4, 80.135];

export default function App() {
  const canvasRef = useRef<HTMLCanvasElement>(null);

  useEffect(() => {
    if (!canvasRef.current) return;
    const ctx = canvasRef.current.getContext('2d');
    if (!ctx) return;

    const xMin = -0.375;
    const xMax = 940.125;
    const last = candles[candles.length - 1];
    const currentPrice = last[3];
    const isLabelTick = (v: number) => v % 32 === 0 && !!timeLabels[v / 32];

    const gridBars: number[] = [];
    for (let v = 0; v <= xMax; v += 16) gridBars.push(v);

    // keep the plot flush with the frame, like the terminal does
    const noPadding = (s: any) => {
      s.paddingLeft = 0;
      s.paddingRight = 0;
      s.paddingTop = 0;
      s.paddingBottom = 0;
    };

    const levelSets: any[] = levelPrices.map((p, k) => ({
      type: 'line',
      data: [{ x: xMin, y: p }, { x: xMax, y: p }],
      borderColor: levelColors[k],
      borderWidth: 1.5,
      borderDash: levelSolid[k] ? [] : [11, 3, 2, 3],
      pointRadius: 0,
      order: 10,
    }));

    const overlay = {
      id: 'mtOverlay',
      afterDatasetsDraw(chart: any) {
        const { ctx: c, chartArea: a, scales } = chart;
        c.save();
        c.beginPath();
        c.rect(a.left, a.top, a.right - a.left, a.bottom - a.top);
        c.clip();
        c.font = `21px ${FONT}`;
        c.textAlign = 'center';
        c.textBaseline = 'middle';
        const cx = scales.x.getPixelForValue(levelLabelBar);
        levelPrices.forEach((p, k) => {
          c.fillStyle = levelColors[k];
          c.fillText(levelTexts[k], cx, scales.y.getPixelForValue(p) + 11);
        });
        c.restore();
      },
      afterDraw(chart: any) {
        const { ctx: c, chartArea: a, scales, width, height } = chart;
        const y = scales.y;
        c.save();
        // window chrome
        c.fillStyle = '#a0a0a0';
        c.fillRect(0, 0, width, 2);
        c.fillRect(0, 0, 2, height);
        c.fillStyle = '#d4d4d4';
        c.fillRect(0, height - 2, width, 2);
        c.fillRect(width - 3, 0, 1, height);
        // frame
        c.fillStyle = '#000';
        c.fillRect(a.left, a.top, a.right - a.left, 1);
        c.fillRect(a.left, a.top, 1, a.bottom - a.top);

        // chart shift marker
        const sx = scales.x.getPixelForValue(candles.length);
        c.fillStyle = '#c0c0c0';
        c.beginPath();
        c.moveTo(sx - 10, a.top + 1);
        c.lineTo(sx + 10, a.top + 1);
        c.lineTo(sx, a.top + 11);
        c.closePath();
        c.fill();

        // price tags on the axis
        c.font = `18px ${FONT}`;
        c.textAlign = 'left';
        c.textBaseline = 'middle';
        const tag = (p: number, color: string) => {
          const py = y.getPixelForValue(p);
          c.fillStyle = color;
          c.fillRect(y.left + 2, Math.round(py) - 8, 60, 22);
          c.fillStyle = '#fff';
          c.fillText(p.toFixed(2), y.left + 9, py + 3);
        };
        tag(currentPrice, '#000');
        levelPrices.forEach((p, k) => tag(p, levelColors[k]));

        // header
        c.fillStyle = '#000';
        c.beginPath();
        c.moveTo(9, 15);
        c.lineTo(20, 15);
        c.lineTo(14.5, 22);
        c.closePath();
        c.fill();
        c.fillText(
          `Brent,M15  ${last[0].toFixed(2)} ${last[1].toFixed(2)} ${last[2].toFixed(2)} ${last[3].toFixed(2)}`,
          32, 20,
        );
        c.restore();
      },
    };

    const chart = new Chart(ctx, {
      type: 'bar',
      data: {
        datasets: [
          ...levelSets,
          {
            type: 'line',
            data: [{ x: xMin, y: currentPrice }, { x: xMax, y: currentPrice }],
            borderColor: '#b8b8b8',
            borderWidth: 1.5,
            pointRadius: 0,
            order: 9,
          },
          {
            type: 'bar',
            data: candles.map((c, i) => ({ x: i, y: [c[2], c[1]] })),
            backgroundColor: '#000',
            borderWidth: 0,
            barThickness: 1,
            grouped: false,
            order: 3,
          },
          {
            type: 'bar',
            data: candles.map((c, i) => ({ x: i, y: [Math.min(c[0], c[3]), Math.max(c[0], c[3])] })),
            backgroundColor: candles.map((c) => (c[3] >= c[0] ? '#ffffff' : '#000000')),
            borderColor: '#000',
            borderWidth: 1,
            borderSkipped: false,
            barThickness: 3,
            minBarLength: 1,
            grouped: false,
            order: 2,
          },
          {
            type: 'scatter',
            data: [{ x: crossMarker[0], y: crossMarker[1] }],
            pointStyle: 'crossRot',
            pointRadius: 20,
            borderColor: '#F2404C',
            borderWidth: 6,
            order: 0,
          },
        ] as any,
      },
      options: {
        animation: false,
        responsive: true,
        maintainAspectRatio: false,
        events: [],
        layout: { autoPadding: false, padding: { left: 4, top: 4, right: 0, bottom: 0 } },
        plugins: { legend: { display: false }, tooltip: { enabled: false } },
        scales: {
          x: {
            type: 'linear',
            min: xMin,
            max: xMax,
            bounds: 'data',
            offset: false,
            afterBuildTicks: (s: any) => {
              s.ticks = gridBars.map((v) => ({ value: v }));
            },
            afterFit: (s: any) => {
              s.height = 36;
              noPadding(s);
            },
            grid: {
              color: '#c0c0c0',
              lineWidth: 1,
              offset: false,
              drawTicks: true,
              tickLength: 4,
              tickColor: (c: any) => (c.tick && isLabelTick(c.tick.value) ? '#000' : 'rgba(0,0,0,0)'),
            },
            border: { display: true, color: '#000', width: 1, dash: [4, 3] },
            ticks: {
              autoSkip: false,
              maxRotation: 0,
              minRotation: 0,
              align: 'start',
              padding: 2,
              color: '#000',
              font: { size: 18, family: FONT },
              callback: (v: any) => (isLabelTick(Number(v)) ? timeLabels[Number(v) / 32] : ''),
            },
          },
          y: {
            type: 'linear',
            position: 'right',
            min: 77.308,
            max: 83.813,
            bounds: 'data',
            afterBuildTicks: (s: any) => {
              s.ticks = priceTicks.map((v) => ({ value: v }));
            },
            afterFit: (s: any) => {
              s.width = 74;
              noPadding(s);
            },
            grid: { color: '#c0c0c0', lineWidth: 1, drawTicks: true, tickLength: 4, tickColor: '#000' },
            border: { display: true, color: '#000', width: 1, dash: [4, 3] },
            ticks: {
              padding: 6,
              color: '#000',
              font: { size: 18, family: FONT },
              callback: (v: any) => Number(v).toFixed(2),
            },
          },
        },
      } as any,
      plugins: [overlay],
    });

    return () => {
      chart.destroy();
    };
  }, []);

  return (
    <div style={{ position: 'fixed', left: 0, top: 0, width: '100vw', height: '100vh', background: '#fff' }}>
      <canvas ref={canvasRef}></canvas>
    </div>
  );
}
